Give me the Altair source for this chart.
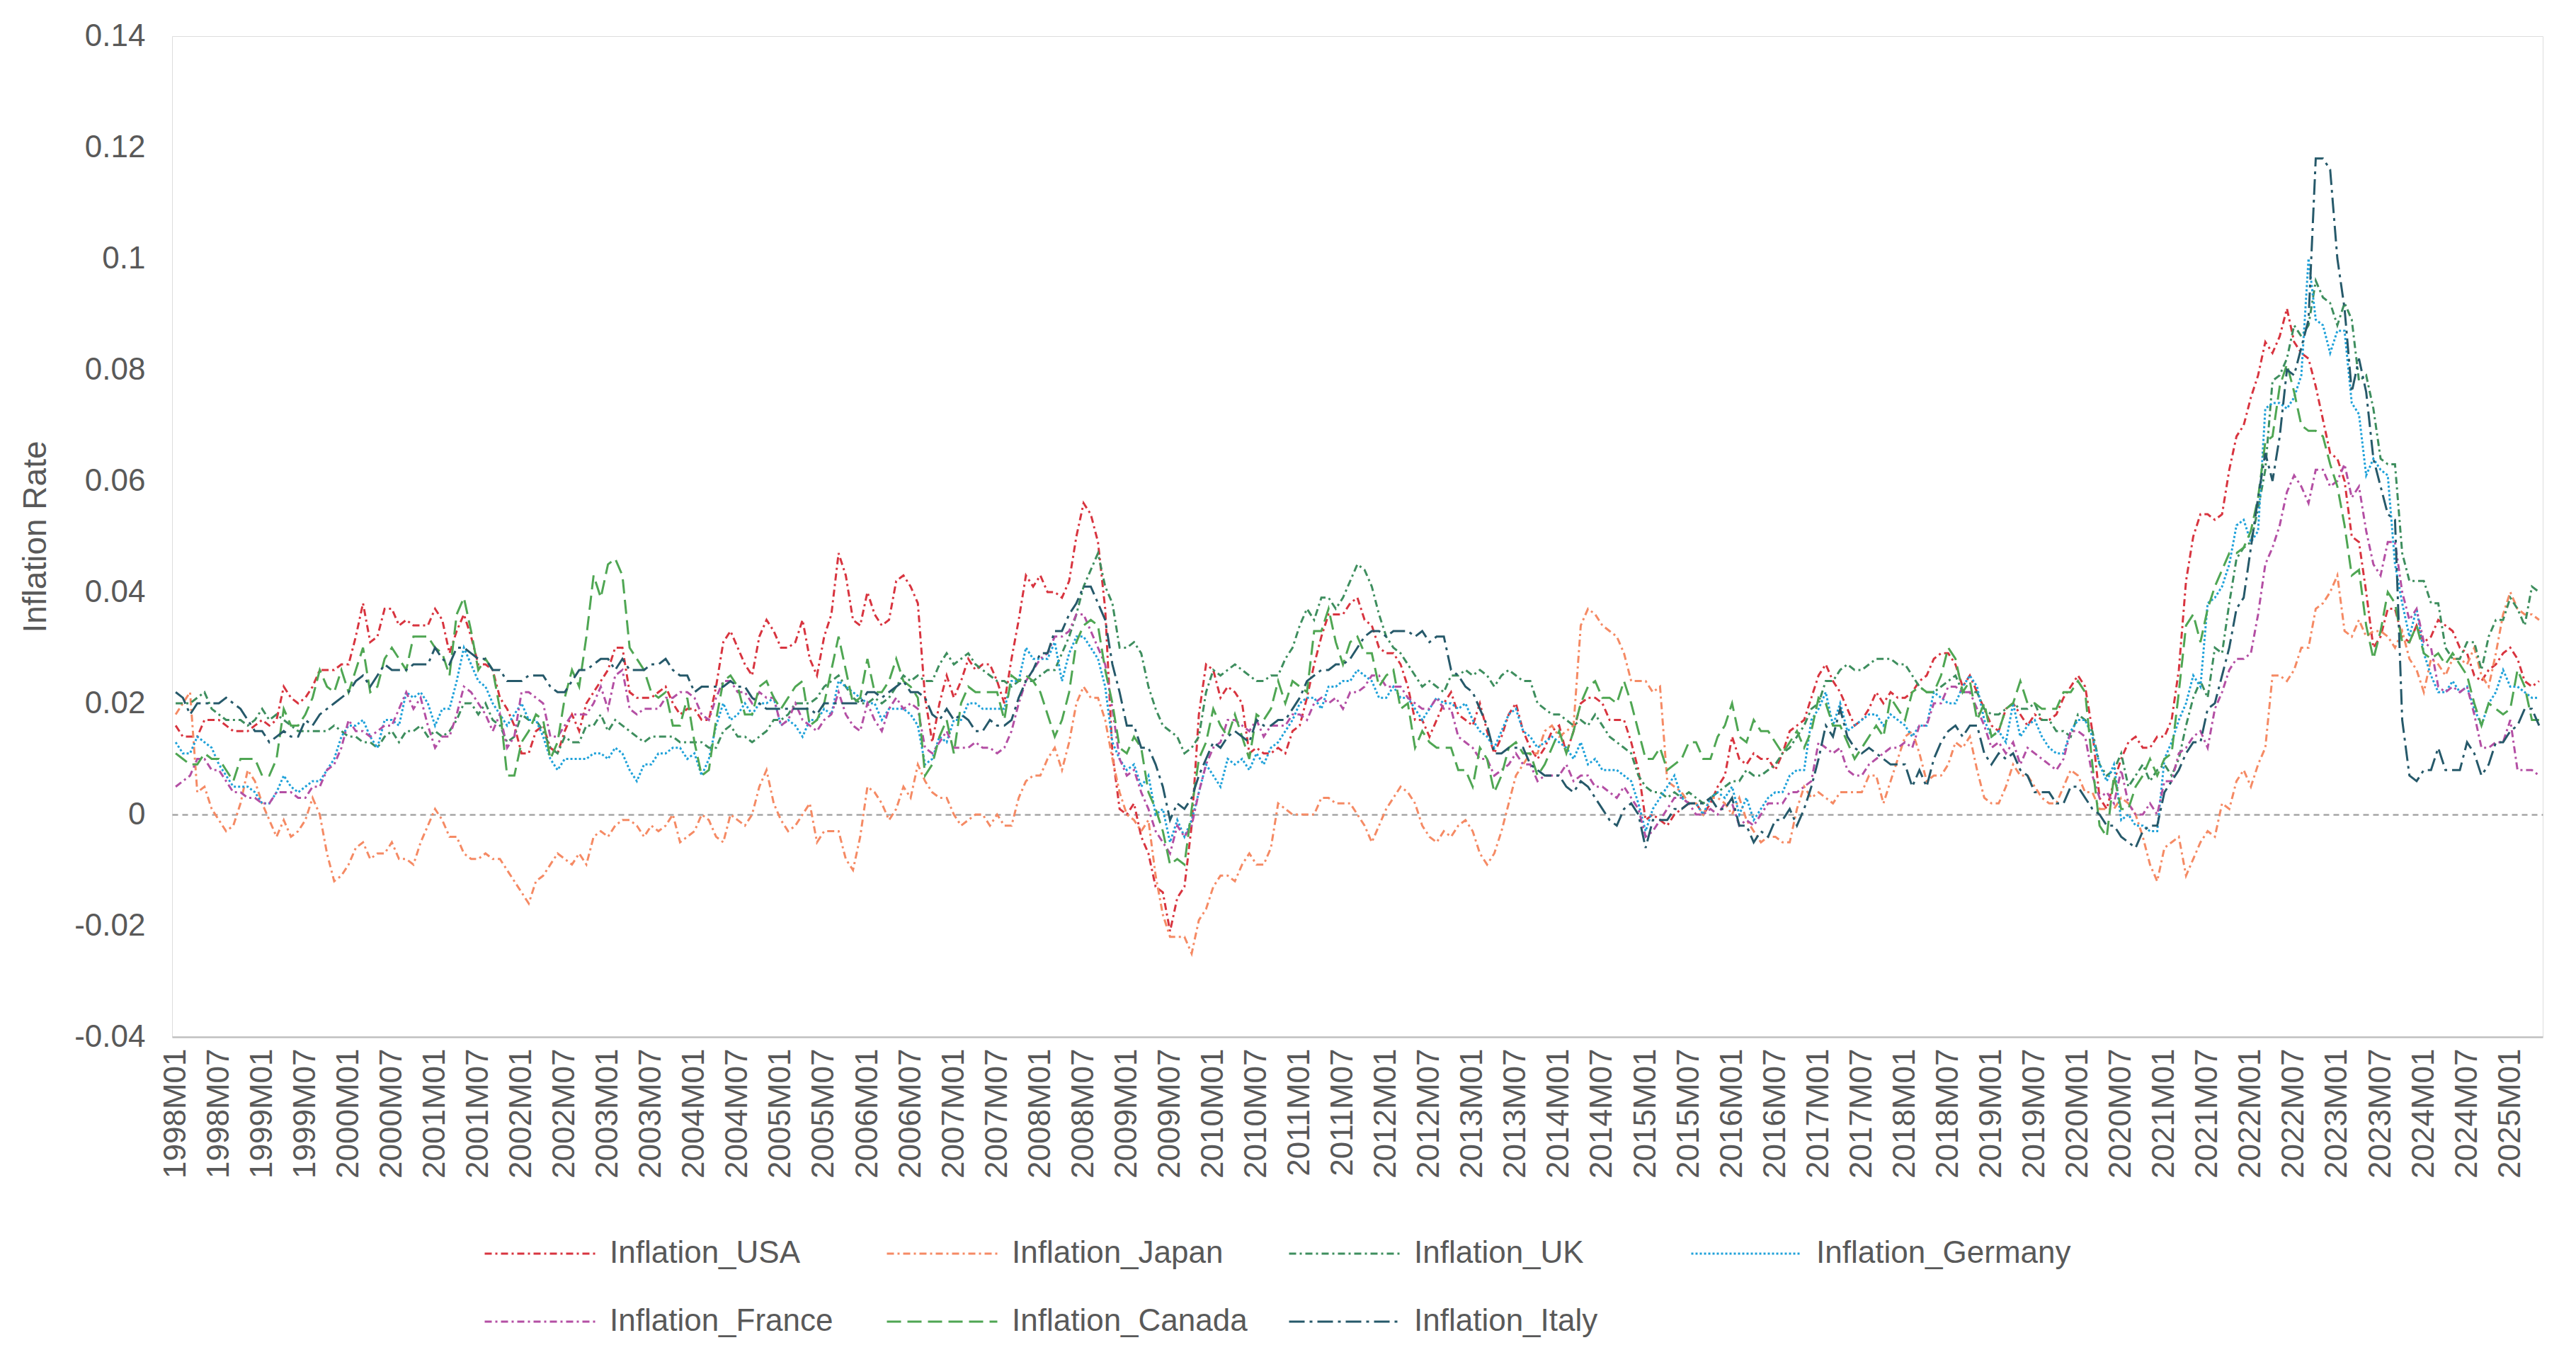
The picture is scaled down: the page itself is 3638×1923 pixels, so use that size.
import altair as alt
import pandas as pd

FONT = "Liberation Sans"
GREY = "#595959"

months = [f"{y}M{m:02d}" for y in range(1998, 2026) for m in range(1, 13)][:329]
x_ticks = [mm for mm in months if mm.endswith("M01") or mm.endswith("M07")]
y_ticks = [-0.04, -0.02, 0, 0.02, 0.04, 0.06, 0.08, 0.1, 0.12, 0.14]

usa = [
    1.6, 1.4, 1.4, 1.4, 1.7, 1.7, 1.7, 1.6, 1.5, 1.5, 1.5, 1.6,
    1.7, 1.6, 1.7, 2.3, 2.1, 2.0, 2.1, 2.3, 2.6, 2.6, 2.6, 2.7,
    2.7, 3.2, 3.8, 3.1, 3.2, 3.7, 3.7, 3.4, 3.5, 3.4, 3.4, 3.4,
    3.7, 3.5, 2.9, 3.3, 3.6, 3.2, 2.7, 2.7, 2.6, 2.1, 1.9, 1.6,
    1.1, 1.1, 1.5, 1.6, 1.2, 1.1, 1.5, 1.8, 1.5, 2.0, 2.2, 2.4,
    2.6, 3.0, 3.0, 2.2, 2.1, 2.1, 2.1, 2.2, 2.3, 2.0, 1.8, 1.9,
    1.9, 1.7, 1.7, 2.3, 3.1, 3.3, 3.0, 2.7, 2.5, 3.2, 3.5, 3.3,
    3.0, 3.0, 3.1, 3.5, 2.8, 2.5, 3.2, 3.6, 4.7, 4.3, 3.5, 3.4,
    4.0, 3.6, 3.4, 3.5, 4.2, 4.3, 4.1, 3.8, 2.1, 1.3, 2.0, 2.5,
    2.1, 2.4, 2.8, 2.6, 2.7, 2.7, 2.4, 2.0, 2.8, 3.5, 4.3, 4.1,
    4.3, 4.0, 4.0, 3.9, 4.2, 5.0, 5.6, 5.4, 4.9, 3.7, 1.1, 0.1,
    0.0, 0.2, -0.4, -0.7, -1.3, -1.4, -2.1, -1.5, -1.3, -0.2, 1.8, 2.7,
    2.6, 2.1, 2.3, 2.2, 2.0, 1.1, 1.2, 1.1, 1.1, 1.2, 1.1, 1.5,
    1.6, 2.1, 2.7, 3.2, 3.6, 3.6, 3.6, 3.8, 3.9, 3.5, 3.4, 3.0,
    2.9, 2.9, 2.7, 2.3, 1.7, 1.7, 1.4, 1.7, 2.0, 2.2, 1.8, 1.7,
    1.6, 2.0, 1.5, 1.1, 1.4, 1.8, 2.0, 1.5, 1.2, 1.0, 1.2, 1.5,
    1.6, 1.1, 1.5, 2.0, 2.1, 2.1, 2.0, 1.7, 1.7, 1.7, 1.3, 0.8,
    -0.1, 0.0, -0.1, -0.2, 0.0, 0.1, 0.2, 0.2, 0.0, 0.2, 0.5, 0.7,
    1.4, 1.0, 0.9, 1.1, 1.0, 1.0, 0.8, 1.1, 1.5, 1.6, 1.7, 2.1,
    2.5, 2.7, 2.4, 2.2, 1.9, 1.6, 1.7, 1.9, 2.2, 2.0, 2.2, 2.1,
    2.1, 2.2, 2.4, 2.5, 2.8, 2.9, 2.9, 2.7, 2.3, 2.5, 2.2, 1.9,
    1.6, 1.5, 1.9, 2.0, 1.8, 1.6, 1.8, 1.7, 1.7, 1.8, 2.1, 2.3,
    2.5, 2.3, 1.5, 0.3, 0.1, 0.6, 1.0, 1.3, 1.4, 1.2, 1.2, 1.4,
    1.4, 1.7, 2.6, 4.2, 5.0, 5.4, 5.4, 5.3, 5.4, 6.2, 6.8, 7.0,
    7.5, 7.9, 8.5, 8.3, 8.6, 9.1, 8.5, 8.3, 8.2, 7.7, 7.1, 6.5,
    6.4, 6.0, 5.0, 4.9, 4.0, 3.0, 3.2, 3.7, 3.7, 3.2, 3.1, 3.4,
    3.1, 3.2, 3.5, 3.4, 3.3, 3.0, 2.9, 2.5, 2.4, 2.6, 2.7, 2.9,
    3.0, 2.8, 2.4, 2.3, 2.4,
]

japan = [
    1.8, 2.0, 2.2, 0.4, 0.5, 0.1, -0.1, -0.3, -0.2, 0.2, 0.8, 0.6,
    0.2, -0.1, -0.4, -0.1, -0.4, -0.3, -0.1, 0.3, 0.0, -0.7, -1.2, -1.1,
    -0.9, -0.6, -0.5, -0.8, -0.7, -0.7, -0.5, -0.8, -0.8, -0.9, -0.5, -0.2,
    0.1, -0.1, -0.4, -0.4, -0.7, -0.8, -0.8, -0.7, -0.8, -0.8, -1.0, -1.2,
    -1.4, -1.6, -1.2, -1.1, -0.9, -0.7, -0.8, -0.9, -0.7, -0.9, -0.4, -0.3,
    -0.4, -0.2, -0.1, -0.1, -0.2, -0.4, -0.2, -0.3, -0.2, 0.0, -0.5, -0.4,
    -0.3, 0.0, -0.1, -0.4, -0.5, 0.0, -0.1, -0.2, 0.0, 0.5, 0.8, 0.2,
    -0.1, -0.3, -0.2, 0.0, 0.2, -0.5, -0.3, -0.3, -0.3, -0.8, -1.0, -0.4,
    0.5, 0.4, 0.2, -0.1, 0.1, 0.5, 0.3, 0.9, 0.6, 0.4, 0.3, 0.3,
    0.0, -0.2, -0.1, 0.0, 0.0, -0.2, 0.0, -0.2, -0.2, 0.3, 0.6, 0.7,
    0.7, 1.0, 1.2, 0.8, 1.3, 2.0, 2.3, 2.1, 2.1, 1.7, 1.0, 0.4,
    0.0, -0.1, -0.3, -0.1, -1.1, -1.8, -2.2, -2.2, -2.2, -2.5, -1.9, -1.7,
    -1.3, -1.1, -1.1, -1.2, -0.9, -0.7, -0.9, -0.9, -0.6, 0.2, 0.1, 0.0,
    0.0, 0.0, 0.0, 0.3, 0.3, 0.2, 0.2, 0.2, 0.0, -0.2, -0.5, -0.2,
    0.1, 0.3, 0.5, 0.4, 0.2, -0.2, -0.4, -0.5, -0.3, -0.4, -0.2, -0.1,
    -0.3, -0.7, -0.9, -0.7, -0.3, 0.2, 0.7, 0.9, 1.1, 1.1, 1.5, 1.6,
    1.4, 1.5, 1.6, 3.4, 3.7, 3.6, 3.4, 3.3, 3.2, 2.9, 2.4, 2.4,
    2.4, 2.2, 2.3, 0.6, 0.5, 0.4, 0.2, 0.2, 0.0, 0.3, 0.3, 0.2,
    0.0, 0.3, -0.1, -0.3, -0.5, -0.4, -0.4, -0.5, -0.5, 0.1, 0.5, 0.3,
    0.4, 0.3, 0.2, 0.4, 0.4, 0.4, 0.4, 0.7, 0.7, 0.2, 0.6, 1.0,
    1.4, 1.5, 1.1, 0.6, 0.7, 0.7, 0.9, 1.3, 1.2, 1.4, 0.8, 0.3,
    0.2, 0.2, 0.5, 0.9, 0.7, 0.7, 0.5, 0.3, 0.2, 0.2, 0.5, 0.8,
    0.7, 0.4, 0.4, 0.1, 0.1, 0.1, 0.3, 0.2, 0.0, -0.4, -0.9, -1.2,
    -0.6, -0.5, -0.4, -1.1, -0.8, -0.5, -0.3, -0.4, 0.2, 0.1, 0.6, 0.8,
    0.5, 0.9, 1.2, 2.5, 2.5, 2.4, 2.6, 3.0, 3.0, 3.7, 3.8, 4.0,
    4.3, 3.3, 3.2, 3.5, 3.2, 3.3, 3.3, 3.2, 3.0, 3.3, 2.8, 2.6,
    2.2, 2.8, 2.7, 2.5, 2.8, 2.8, 2.7, 3.0, 2.5, 2.3, 2.9, 3.6,
    4.0, 3.7, 3.6, 3.6, 3.5,
]

uk = [
    2.0, 2.0, 2.0, 2.1, 2.2, 1.9, 1.8, 1.7, 1.7, 1.7, 1.6, 1.7,
    1.9, 1.7, 1.8, 1.7, 1.6, 1.5, 1.5, 1.5, 1.5, 1.5, 1.6, 1.5,
    1.4, 1.4, 1.3, 1.3, 1.2, 1.4, 1.5, 1.3, 1.5, 1.5, 1.6, 1.4,
    1.5, 1.4, 1.5, 1.7, 2.0, 2.0, 1.8, 2.0, 1.7, 1.6, 1.3, 1.4,
    1.8, 1.7, 1.7, 1.5, 1.2, 1.1, 1.4, 1.3, 1.3, 1.6, 1.6, 1.8,
    1.5, 1.7, 1.6, 1.5, 1.4, 1.3, 1.4, 1.4, 1.4, 1.4, 1.3, 1.3,
    1.3, 1.3, 1.2, 1.2, 1.5, 1.6, 1.4, 1.4, 1.3, 1.4, 1.5, 1.7,
    1.7, 1.8, 2.0, 2.0, 2.0, 2.1, 2.3, 2.4, 2.5, 2.3, 2.1, 2.0,
    2.0, 2.1, 2.0, 2.1, 2.3, 2.5, 2.4, 2.5, 2.4, 2.4, 2.7, 2.9,
    2.7, 2.8, 2.9, 2.7, 2.6, 2.5, 2.4, 2.4, 2.3, 2.4, 2.4, 2.4,
    2.5, 2.6, 2.6, 2.9, 3.2, 3.6, 4.1, 4.4, 4.7, 4.1, 3.8, 3.0,
    3.0, 3.1, 2.9, 2.3, 1.9, 1.6, 1.5, 1.4, 1.1, 1.2, 1.4, 2.2,
    2.6, 2.5, 2.6, 2.7, 2.6, 2.5, 2.4, 2.4, 2.5, 2.5, 2.8, 3.0,
    3.4, 3.7, 3.5, 3.9, 3.9, 3.7, 3.9, 4.2, 4.5, 4.4, 4.1, 3.6,
    3.2, 3.0, 2.9, 2.7, 2.5, 2.3, 2.4, 2.3, 2.2, 2.5, 2.5, 2.6,
    2.5, 2.6, 2.5, 2.3, 2.5, 2.6, 2.5, 2.4, 2.4, 2.0, 1.9, 1.8,
    1.8, 1.7, 1.6, 1.7, 1.6, 1.8, 1.6, 1.4, 1.3, 1.2, 1.1, 0.7,
    0.5, 0.4, 0.4, 0.3, 0.4, 0.3, 0.4, 0.3, 0.2, 0.3, 0.4, 0.5,
    0.6, 0.6, 0.8, 0.7, 0.7, 0.8, 0.9, 1.1, 1.2, 1.4, 1.6, 1.9,
    2.0, 2.4, 2.4, 2.6, 2.7, 2.6, 2.6, 2.7, 2.8, 2.8, 2.8, 2.7,
    2.7, 2.5, 2.3, 2.2, 2.2, 2.3, 2.4, 2.5, 2.2, 2.2, 2.2, 1.9,
    1.8, 1.8, 1.9, 2.0, 1.9, 1.9, 2.0, 1.7, 1.7, 1.5, 1.5, 1.4,
    1.8, 1.7, 1.5, 0.9, 0.7, 0.8, 1.1, 0.5, 0.7, 0.9, 0.6, 0.8,
    0.9, 0.7, 1.0, 1.6, 2.1, 2.4, 2.1, 3.0, 2.9, 3.8, 4.6, 4.8,
    4.9, 5.5, 6.2, 7.8, 7.9, 8.2, 8.8, 8.6, 8.8, 9.6, 9.3, 9.2,
    8.8, 9.2, 8.9, 7.8, 7.9, 7.3, 6.4, 6.3, 6.3, 4.7, 4.2, 4.2,
    4.2, 3.8, 3.8, 3.0, 2.8, 2.8, 3.1, 3.1, 2.6, 3.2, 3.5, 3.5,
    3.9, 3.7, 3.4, 4.1, 4.0,
]

germany = [
    1.3, 1.1, 1.1, 1.4, 1.3, 1.2, 0.9, 0.7, 0.5, 0.5, 0.5, 0.4,
    0.2, 0.2, 0.4, 0.7, 0.5, 0.4, 0.5, 0.6, 0.6, 0.8, 1.0, 1.4,
    1.6, 1.6, 1.7, 1.4, 1.2, 1.7, 1.7, 1.6, 2.2, 2.1, 2.2, 2.0,
    1.6, 1.9, 1.9, 2.4, 3.0, 2.7, 2.4, 2.3, 2.0, 1.8, 1.6, 1.8,
    2.0, 1.7, 1.7, 1.4, 1.0, 0.8, 1.0, 1.0, 1.0, 1.0, 1.1, 1.1,
    1.0, 1.2, 1.1, 0.8, 0.6, 0.9, 0.9, 1.1, 1.1, 1.2, 1.2, 1.0,
    1.1, 0.7, 1.0, 1.6, 2.0, 1.7, 1.8, 2.0, 1.8, 2.0, 2.0, 2.1,
    1.6, 1.7, 1.6, 1.4, 1.7, 1.7, 1.9, 1.8, 2.4, 2.3, 2.2, 2.1,
    2.0, 2.0, 1.7, 1.9, 1.9, 1.9, 1.8, 1.6, 0.9, 1.0, 1.4, 1.3,
    1.7, 1.7, 2.0, 2.0, 1.9, 1.9, 1.9, 1.9, 2.4, 2.4, 3.0, 2.8,
    2.8, 2.8, 3.1, 2.4, 2.9, 3.2, 3.2, 3.0, 2.8, 2.3, 1.3, 1.0,
    0.8, 0.9, 0.5, 0.7, 0.0, 0.1, -0.5, -0.1, -0.4, -0.1, 0.4, 0.9,
    0.7, 0.5, 1.0, 0.9, 1.0, 0.8, 1.1, 0.9, 1.2, 1.3, 1.5, 1.7,
    2.0, 2.1, 2.1, 1.9, 2.3, 2.3, 2.4, 2.4, 2.6, 2.5, 2.4, 2.1,
    2.1, 2.3, 2.1, 2.1, 1.9, 1.7, 1.9, 2.1, 2.0, 2.0, 1.9, 2.0,
    1.7, 1.5, 1.4, 1.2, 1.5, 1.8, 1.9, 1.5, 1.4, 1.2, 1.3, 1.4,
    1.3, 1.2, 1.0, 1.3, 0.9, 1.0, 0.8, 0.8, 0.8, 0.7, 0.6, 0.2,
    -0.3, 0.1, 0.3, 0.5, 0.7, 0.3, 0.2, 0.2, 0.0, 0.3, 0.4, 0.3,
    0.5, 0.0, 0.3, -0.1, 0.1, 0.3, 0.4, 0.4, 0.7, 0.8, 0.8, 1.7,
    1.9, 2.2, 1.6, 2.0, 1.5, 1.6, 1.7, 1.8, 1.8, 1.6, 1.8, 1.7,
    1.6, 1.4, 1.6, 1.6, 2.2, 2.1, 2.0, 2.0, 2.3, 2.5, 2.3, 1.7,
    1.4, 1.5, 1.3, 2.0, 1.4, 1.6, 1.7, 1.4, 1.2, 1.1, 1.1, 1.5,
    1.7, 1.7, 1.4, 0.9, 0.6, 0.9, -0.1, 0.0, -0.2, -0.2, -0.3, -0.3,
    1.0, 1.3, 1.7, 2.0, 2.5, 2.3, 3.8, 3.9, 4.1, 4.5, 5.2, 5.3,
    4.9, 5.1, 7.3, 7.4, 7.4, 7.3, 7.5, 7.9, 10.0, 8.9, 8.8, 8.3,
    8.7, 8.7, 7.4, 7.2, 6.1, 6.4, 6.2, 6.1, 4.5, 3.8, 3.2, 3.7,
    2.9, 2.5, 2.2, 2.2, 2.4, 2.2, 2.3, 1.9, 1.6, 2.0, 2.2, 2.6,
    2.3, 2.3, 2.2, 2.1, 2.1,
]

france = [
    0.5, 0.6, 0.7, 1.0, 1.0, 0.8, 0.8, 0.6, 0.4, 0.4, 0.3, 0.3,
    0.2, 0.2, 0.4, 0.4, 0.4, 0.3, 0.3, 0.5, 0.5, 0.8, 0.9, 1.2,
    1.7, 1.5, 1.5, 1.4, 1.5, 1.6, 1.6, 1.9, 2.2, 1.9, 2.1, 1.6,
    1.2, 1.4, 1.4, 1.8, 2.3, 2.2, 2.0, 1.8, 1.5, 1.8, 1.2, 1.4,
    2.2, 2.2, 2.1, 2.0, 1.4, 1.4, 1.6, 1.8, 1.8, 1.8, 2.0, 2.3,
    1.9, 2.5, 2.6, 1.9, 1.8, 1.9, 1.9, 1.9, 2.1, 2.1, 2.2, 2.2,
    2.1, 1.8, 1.7, 2.1, 2.4, 2.4, 2.2, 2.2, 2.0, 2.2, 2.1, 2.1,
    1.6, 1.7, 2.0, 1.7, 1.6, 1.5, 1.7, 1.8, 2.2, 1.8, 1.6, 1.5,
    2.0, 1.7, 1.5, 1.9, 2.1, 1.9, 2.0, 1.9, 1.2, 1.1, 1.3, 1.5,
    1.2, 1.2, 1.2, 1.3, 1.2, 1.2, 1.1, 1.2, 1.5, 2.0, 2.4, 2.6,
    2.8, 2.9, 3.2, 3.2, 3.3, 3.6, 3.6, 3.3, 3.0, 2.7, 1.9, 1.0,
    0.7, 0.8, 0.4, 0.1, -0.3, -0.5, -0.7, -0.2, -0.4, -0.2, 0.4, 0.9,
    1.2, 1.3, 1.7, 1.7, 1.6, 1.5, 1.7, 1.4, 1.6, 1.6, 1.6, 1.8,
    1.8, 1.7, 2.0, 2.1, 2.0, 2.1, 1.9, 2.2, 2.2, 2.3, 2.5, 2.5,
    2.3, 2.3, 2.3, 2.1, 2.0, 1.9, 1.9, 2.1, 1.9, 1.9, 1.4, 1.3,
    1.2, 1.0, 1.0, 0.7, 0.8, 0.9, 1.1, 0.9, 0.9, 0.6, 0.7, 0.7,
    0.7, 0.9, 0.6, 0.7, 0.7, 0.5, 0.5, 0.4, 0.3, 0.5, 0.3, 0.1,
    -0.4, -0.3, -0.1, 0.1, 0.3, 0.3, 0.2, 0.0, 0.0, 0.1, 0.0, 0.2,
    0.2, -0.2, -0.1, -0.2, 0.0, 0.2, 0.2, 0.2, 0.4, 0.4, 0.5, 0.6,
    1.3, 1.2, 1.1, 1.2, 0.8, 0.7, 0.7, 0.9, 1.0, 1.1, 1.2, 1.2,
    1.3, 1.2, 1.6, 1.6, 2.0, 2.0, 2.3, 2.3, 2.2, 2.2, 1.9, 1.6,
    1.2, 1.3, 1.1, 1.3, 0.9, 1.2, 1.1, 1.0, 0.9, 0.8, 1.0, 1.5,
    1.5, 1.4, 0.7, 0.3, 0.4, 0.2, 0.8, 0.2, 0.0, 0.0, 0.2, 0.0,
    0.6, 0.6, 1.1, 1.2, 1.4, 1.5, 1.2, 1.9, 2.2, 2.6, 2.8, 2.8,
    2.9, 3.6, 4.5, 4.8, 5.2, 5.8, 6.1, 5.9, 5.6, 6.2, 6.2, 5.9,
    6.0, 6.3, 5.7, 5.9, 5.1, 4.5, 4.3, 4.9, 4.9, 4.0, 3.5, 3.7,
    3.1, 3.0, 2.3, 2.2, 2.3, 2.2, 2.3, 1.8, 1.2, 1.2, 1.3, 1.3,
    1.7, 0.8, 0.8, 0.8, 0.7,
]

canada = [
    1.1, 1.0, 0.9, 0.9, 1.1, 1.0, 1.0, 0.8, 0.6, 1.0, 1.0, 1.0,
    0.7, 0.7, 1.0, 1.9, 1.6, 1.6, 1.8, 2.1, 2.6, 2.3, 2.2, 2.6,
    2.2, 2.6, 3.0, 2.2, 2.3, 2.8, 3.0, 2.8, 2.6, 3.2, 3.2, 3.2,
    3.0, 2.9, 2.5, 3.6, 3.9, 3.3, 2.6, 2.8, 2.6, 1.9, 0.7, 0.7,
    1.3, 1.5, 1.8, 1.7, 1.0, 1.3, 2.1, 2.6, 2.3, 3.2, 4.3, 3.9,
    4.5, 4.6, 4.3, 3.0, 2.8, 2.6, 2.2, 2.1, 2.2, 1.6, 1.6, 2.1,
    1.3, 0.7, 0.8, 1.7, 2.4, 2.5, 2.3, 1.8, 1.8, 2.3, 2.4, 2.1,
    1.9, 2.1, 2.3, 2.4, 1.6, 1.7, 2.0, 2.6, 3.2, 2.6, 2.0, 2.1,
    2.8, 2.2, 2.2, 2.4, 2.8, 2.4, 2.3, 2.1, 0.7, 0.9, 1.4, 1.7,
    1.1, 2.0, 2.3, 2.2, 2.2, 2.2, 2.2, 1.7, 2.5, 2.4, 2.5, 2.4,
    2.2, 1.8, 1.4, 1.7, 2.2, 3.1, 3.4, 3.5, 3.4, 2.6, 2.0, 1.2,
    1.1, 1.4, 1.2, 0.4, 0.1, -0.3, -0.9, -0.8, -0.9, 0.1, 1.0, 1.3,
    1.9, 1.6, 1.4, 1.8, 1.4, 1.0, 1.8, 1.7, 1.9, 2.4, 2.0, 2.4,
    2.3, 2.2, 3.3, 3.3, 3.7, 3.1, 2.7, 3.1, 3.2, 2.9, 2.9, 2.3,
    2.5, 2.6, 1.9, 2.0, 1.2, 1.5, 1.3, 1.2, 1.2, 1.2, 0.8, 0.8,
    0.5, 1.2, 1.0, 0.4, 0.7, 1.2, 1.3, 1.1, 1.1, 0.7, 0.9, 1.2,
    1.5, 1.1, 1.5, 2.0, 2.3, 2.4, 2.1, 2.1, 2.0, 2.4, 2.0, 1.5,
    1.0, 1.0, 1.2, 0.8, 0.9, 1.0, 1.3, 1.3, 1.0, 1.0, 1.4, 1.6,
    2.0, 1.4, 1.3, 1.7, 1.5, 1.5, 1.3, 1.1, 1.3, 1.5, 1.2, 1.5,
    2.1, 2.0, 1.6, 1.6, 1.3, 1.0, 1.2, 1.4, 1.6, 1.4, 2.1, 1.9,
    1.7, 2.2, 2.3, 2.2, 2.2, 2.5, 3.0, 2.8, 2.2, 2.4, 1.7, 2.0,
    1.4, 1.5, 1.9, 2.0, 2.4, 2.0, 2.0, 1.9, 1.9, 1.9, 2.2, 2.2,
    2.4, 2.2, 0.9, -0.2, -0.4, 0.7, 0.1, 0.1, 0.5, 0.7, 1.0, 0.7,
    1.0, 1.1, 2.2, 3.4, 3.6, 3.1, 3.7, 4.1, 4.4, 4.7, 4.7, 4.8,
    5.1, 5.7, 6.7, 6.8, 7.7, 8.1, 7.6, 7.0, 6.9, 6.9, 6.8, 6.3,
    5.9, 5.2, 4.3, 4.4, 3.4, 2.8, 3.3, 4.0, 3.8, 3.1, 3.1, 3.4,
    2.9, 2.8, 2.9, 2.7, 2.9, 2.7, 2.5, 2.0, 1.6, 2.0, 1.9, 1.8,
    1.9, 2.6, 2.3, 1.7, 1.7,
]

italy = [
    2.2, 2.1, 1.8, 2.0, 2.0, 2.0, 2.0, 2.1, 2.0, 1.9, 1.7, 1.5,
    1.5, 1.3, 1.4, 1.5, 1.4, 1.4, 1.7, 1.6, 1.8, 1.9, 2.0, 2.1,
    2.2, 2.4, 2.5, 2.3, 2.5, 2.7, 2.6, 2.6, 2.6, 2.7, 2.7, 2.7,
    3.0, 2.8, 2.7, 3.0, 3.0, 2.9, 2.8, 2.8, 2.6, 2.6, 2.4, 2.4,
    2.4, 2.5, 2.5, 2.5, 2.3, 2.2, 2.2, 2.4, 2.6, 2.6, 2.7, 2.8,
    2.8, 2.6, 2.8, 2.6, 2.6, 2.6, 2.7, 2.7, 2.8, 2.6, 2.5, 2.5,
    2.2, 2.3, 2.3, 2.3, 2.3, 2.4, 2.3, 2.3, 2.1, 2.0, 1.9, 1.9,
    1.9, 1.9, 1.9, 1.9, 1.9, 1.8, 2.0, 2.0, 2.0, 2.0, 2.0, 2.0,
    2.2, 2.2, 2.1, 2.2, 2.3, 2.4, 2.2, 2.2, 2.1, 1.8, 1.7, 1.9,
    1.7, 1.8, 1.7, 1.5, 1.5, 1.7, 1.6, 1.6, 1.7, 2.1, 2.4, 2.6,
    2.9, 2.9, 3.3, 3.3, 3.6, 3.8, 4.1, 4.1, 3.8, 3.5, 2.7, 2.2,
    1.6, 1.6, 1.2, 1.2, 0.9, 0.5, -0.1, 0.2, 0.1, 0.3, 0.7, 1.0,
    1.3, 1.2, 1.4, 1.5, 1.4, 1.3, 1.7, 1.6, 1.6, 1.7, 1.7, 1.9,
    2.1, 2.4, 2.5, 2.6, 2.6, 2.7, 2.7, 2.8, 3.0, 3.2, 3.3, 3.3,
    3.2, 3.3, 3.3, 3.3, 3.2, 3.3, 3.1, 3.2, 3.2, 2.6, 2.5, 2.3,
    2.2, 1.9, 1.6, 1.1, 1.1, 1.2, 1.2, 1.2, 0.9, 0.8, 0.7, 0.7,
    0.7, 0.5, 0.4, 0.6, 0.5, 0.3, 0.1, -0.1, -0.2, 0.1, 0.2, 0.0,
    -0.6, -0.1, -0.1, -0.1, 0.1, 0.1, 0.2, 0.2, 0.2, 0.3, 0.1, 0.1,
    0.3, -0.2, -0.2, -0.5, -0.3, -0.4, -0.1, -0.1, 0.1, -0.2, 0.1, 0.5,
    1.0, 1.6, 1.4, 1.9, 1.4, 1.2, 1.1, 1.2, 1.1, 1.0, 0.9, 0.9,
    0.9, 0.5, 0.8, 0.5, 1.0, 1.3, 1.5, 1.6, 1.4, 1.6, 1.6, 1.1,
    0.9, 1.1, 1.0, 1.1, 0.8, 0.7, 0.4, 0.4, 0.4, 0.2, 0.2, 0.5,
    0.5, 0.3, 0.1, 0.0, -0.2, -0.2, -0.4, -0.5, -0.6, -0.3, -0.2, -0.2,
    0.4, 0.6, 0.8, 1.1, 1.3, 1.3, 1.9, 2.0, 2.5, 3.0, 3.7, 3.9,
    4.8, 5.7, 6.5, 6.0, 6.8, 8.0, 7.9, 8.4, 8.9, 11.8, 11.8, 11.6,
    10.0, 9.1, 7.6, 8.2, 7.6, 6.4, 5.9, 5.4, 5.3, 1.7, 0.7, 0.6,
    0.8, 0.8, 1.2, 0.8, 0.8, 0.8, 1.3, 1.1, 0.7, 0.9, 1.3, 1.3,
    1.5, 1.6, 1.9, 1.9, 1.6,
]

names = ["Inflation_USA", "Inflation_Japan", "Inflation_UK", "Inflation_Germany",
         "Inflation_France", "Inflation_Canada", "Inflation_Italy"]
colors = ["#D8343F", "#F58A64", "#3E8E5E", "#1EA1D9", "#B44FA4", "#4FA653", "#26596A"]
dashes = [[10, 5, 3, 5], [10, 5, 3, 5], [10, 5, 3, 5], [3, 3],
          [10, 5, 3, 5], [20, 9], [22, 7, 4, 7]]

series = dict(zip(names, [usa, japan, uk, germany, france, canada, italy]))
rows = []
for name, vals in series.items():
    assert len(vals) == len(months), (name, len(vals))
    for mth, v in zip(months, vals):
        rows.append({"month": mth, "series": name, "value": v / 100.0})
df = pd.DataFrame(rows)

x_enc = alt.X(
    "month:O", sort=months,
    scale=alt.Scale(type="point", padding=0.5),
    axis=alt.Axis(values=x_ticks, labelAngle=-90, title=None, ticks=False, grid=False,
                  domainColor="#BFBFBF", domainWidth=2.5, labelFont=FONT,
                  labelFontSize=44, labelColor=GREY, labelPadding=16,
                  labelOverlap=False, labelFlush=False, labelLimit=400),
)
y_enc = alt.Y(
    "value:Q",
    scale=alt.Scale(domain=[-0.04, 0.14], nice=False, zero=False),
    axis=alt.Axis(values=y_ticks, title="Inflation Rate", domain=False, ticks=False,
                  grid=True, gridColor="#A6A6A6", gridWidth=2.5, gridDash=[8, 6],
                  gridOpacity={"condition": {"test": "datum.value == 0", "value": 1}, "value": 0},
                  labelFont=FONT, labelFontSize=44, labelColor=GREY,
                  labelPadding=38, titleFont=FONT, titleFontSize=46,
                  titleFontWeight="normal", titleColor=GREY, titlePadding=30,
                  labelExpr="datum.value == 0 ? '0' : toString(round(datum.value * 100) / 100)"),
)


def make_legend():
    return alt.Legend(
        title=None, orient="none", legendX=440, legendY=1697, columns=4,
        direction="horizontal", symbolType="stroke", symbolSize=24336,
        symbolStrokeWidth=3, clipHeight=44, labelFont=FONT, labelFontSize=44,
        labelColor=GREY, labelOffset=19, labelLimit=900, gridAlign="all",
        columnPadding=30, rowPadding=52, padding=0,
    )


chart = alt.Chart(df).mark_line(strokeWidth=3).encode(
    x=x_enc,
    y=y_enc,
    color=alt.Color("series:N", scale=alt.Scale(domain=names, range=colors),
                    legend=make_legend()),
    strokeDash=alt.StrokeDash("series:N", scale=alt.Scale(domain=names, range=dashes),
                              legend=make_legend()),
    detail="series:N",
).properties(
    width=3348, height=1413,
    padding={"left": 235, "top": 43, "right": 30, "bottom": 445},
    autosize=alt.AutoSizeParams(type="none"),
).configure_view(
    stroke="transparent", strokeOpacity=0, strokeWidth=0
).configure(background="white")

chart.save("out.html", embed_options={"renderer": "svg", "actions": False})
